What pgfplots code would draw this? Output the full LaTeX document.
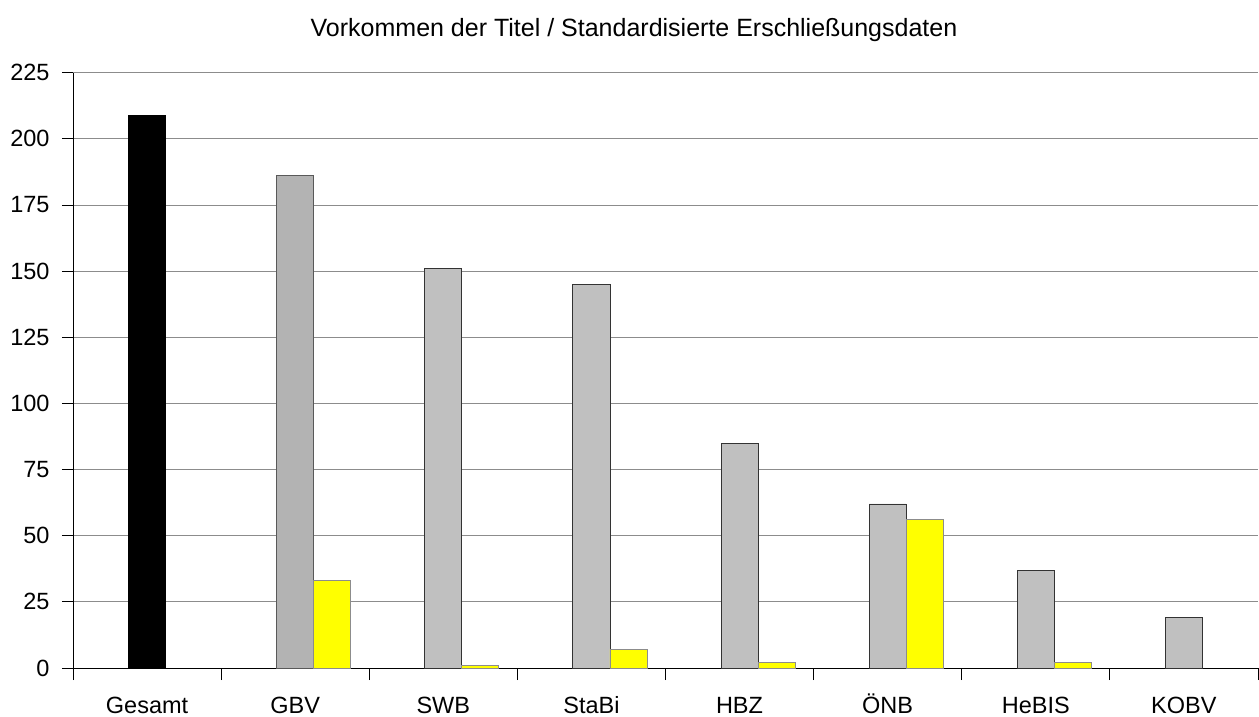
\documentclass[border=0pt]{standalone}
\usepackage{graphicx}
\usepackage{pgfplots}
\pgfplotsset{compat=1.18}
\usepackage{fontspec}
\setmainfont{Liberation Sans}
\definecolor{bargrey}{HTML}{C0C0C0}
\definecolor{bargreyd}{HTML}{B3B3B3}
\definecolor{baryel}{HTML}{FFFF00}
\begin{document}
\begin{tikzpicture}
\path[use as bounding box] (-73pt,-48pt) rectangle (1186pt,668pt);
\begin{axis}[
  at={(0pt,0pt)}, anchor=south west,
  scale only axis, width=1185pt, height=595.3pt,
  xmin=-0.5, xmax=7.5, ymin=0, ymax=225,
  axis x line*=bottom, axis y line*=left,
  axis line style={-, black, line width=0.8pt},
  ytick={0,25,...,225},
  xtick={0,...,7},
  xticklabels={Gesamt,GBV,SWB,StaBi,HBZ,ÖNB,HeBIS,KOBV},
  minor xtick={-0.5,0.5,...,7.5},
  tick align=outside,
  major x tick style={draw=none},
  minor x tick style={black, line width=0.8pt},
  major y tick style={black, line width=0.8pt},
  minor tick length=12pt,
  major tick length=11pt,
  ymajorgrids, major grid style={gray!90, line width=0.8pt},
  tick label style={font=\fontsize{23.5}{23.5}\selectfont},
  /pgf/number format/assume math mode=true,
  yticklabel style={xshift=-9pt},
  xticklabel style={anchor=base, yshift=-34.3pt},
  ybar, bar width=0.25,
  clip=false,
]
\addplot[fill=black, draw=black, line width=0.6pt, bar shift=0] coordinates {(0,209)};
\addplot[fill=bargreyd, draw=black!65, line width=0.8pt, bar shift=0] coordinates {(1,186)};
\addplot[fill=bargrey, draw=black!80, line width=0.8pt, bar shift=0] coordinates {(2,151) (3,145) (4,85) (5,62) (6,37) (7,19)};
\addplot[fill=baryel, draw=black!45, line width=0.8pt, bar shift=0.25] coordinates {(1,33) (2,1) (3,7) (4,2) (5,56) (6,2)};
\end{axis}
\node[anchor=base] at (561pt,631.3pt) {\fontsize{25}{25}\selectfont Vorkommen der Titel / Standardisierte Erschließungsdaten};
\end{tikzpicture}
\end{document}
